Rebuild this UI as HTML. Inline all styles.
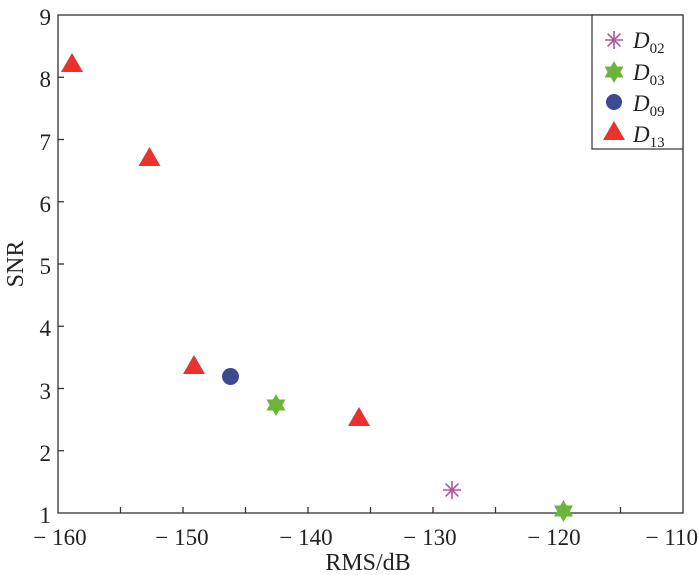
<!DOCTYPE html><html><head><style>body{margin:0;background:#fff}svg{display:block}text{font-family:"Liberation Serif",serif;fill:#222}</style></head><body>
<svg width="700" height="575" viewBox="0 0 700 575">
<rect x="58" y="15" width="625" height="498" fill="none" stroke="#333" stroke-width="1.3"/>
<g stroke="#333" stroke-width="1.3">
<line x1="120.5" y1="513" x2="120.5" y2="507"/><line x1="183" y1="513" x2="183" y2="507"/><line x1="245.5" y1="513" x2="245.5" y2="507"/><line x1="308" y1="513" x2="308" y2="507"/><line x1="370.5" y1="513" x2="370.5" y2="507"/><line x1="433" y1="513" x2="433" y2="507"/><line x1="495.5" y1="513" x2="495.5" y2="507"/><line x1="558" y1="513" x2="558" y2="507"/><line x1="620.5" y1="513" x2="620.5" y2="507"/>
<line x1="58" y1="77.25" x2="64" y2="77.25"/><line x1="58" y1="139.5" x2="64" y2="139.5"/><line x1="58" y1="201.75" x2="64" y2="201.75"/><line x1="58" y1="264" x2="64" y2="264"/><line x1="58" y1="326.25" x2="64" y2="326.25"/><line x1="58" y1="388.5" x2="64" y2="388.5"/><line x1="58" y1="450.75" x2="64" y2="450.75"/>
</g>
<g font-size="23" text-anchor="end">
<text x="51" y="523">1</text><text x="51" y="461">2</text><text x="51" y="399">3</text><text x="51" y="336">4</text><text x="51" y="274">5</text><text x="51" y="212">6</text><text x="51" y="150">7</text><text x="51" y="87">8</text><text x="51" y="25">9</text>
</g>
<g font-size="23" text-anchor="middle">
<text x="60" y="545">− 160</text><text x="182" y="545">− 150</text><text x="306" y="545">− 140</text><text x="430" y="545">− 130</text><text x="554" y="545">− 120</text><text x="698" y="545" text-anchor="end">− 110</text>
<text x="368" y="570" font-size="24">RMS/dB</text>
<text transform="translate(23 264) rotate(-90)" font-size="24">SNR</text>
</g>
<defs>
<g id="tri"><polygon points="0,-11 11,8 -11,8" fill="#e8322b"/></g>
<g id="star"><polygon points="0,-11 3.2,-5.5 9.5,-5.5 6.4,0 9.5,5.5 3.2,5.5 0,11 -3.2,5.5 -9.5,5.5 -6.4,0 -9.5,-5.5 -3.2,-5.5" fill="#6cb53a"/></g>
<g id="ast" stroke="#b055a0" stroke-width="1.6"><line x1="0" y1="-9" x2="0" y2="9"/><line x1="-9" y1="0" x2="9" y2="0"/><line x1="-6.4" y1="-6.4" x2="6.4" y2="6.4"/><line x1="-6.4" y1="6.4" x2="6.4" y2="-6.4"/></g>
</defs>
<use href="#tri" x="72" y="64"/><use href="#tri" x="149.5" y="158"/><use href="#tri" x="194" y="366"/><use href="#tri" x="359" y="418"/>
<circle cx="230.5" cy="376.5" r="8.5" fill="#3c4a92"/>
<use href="#star" x="276" y="405"/><use href="#star" x="563.5" y="511"/>
<use href="#ast" x="452" y="490"/>
<rect x="592" y="15" width="91" height="134" fill="#fff" stroke="#333" stroke-width="1.2"/>
<use href="#ast" x="614" y="40"/><use href="#star" x="614" y="72"/><circle cx="614" cy="102" r="8" fill="#3c4a92"/><use href="#tri" x="614" y="132"/>
<g font-size="23" font-style="italic">
<text x="633" y="48">D<tspan font-size="15" font-style="normal" dy="5">02</tspan></text>
<text x="633" y="80">D<tspan font-size="15" font-style="normal" dy="5">03</tspan></text>
<text x="633" y="111">D<tspan font-size="15" font-style="normal" dy="5">09</tspan></text>
<text x="633" y="142">D<tspan font-size="15" font-style="normal" dy="5">13</tspan></text>
</g>
</svg></body></html>
